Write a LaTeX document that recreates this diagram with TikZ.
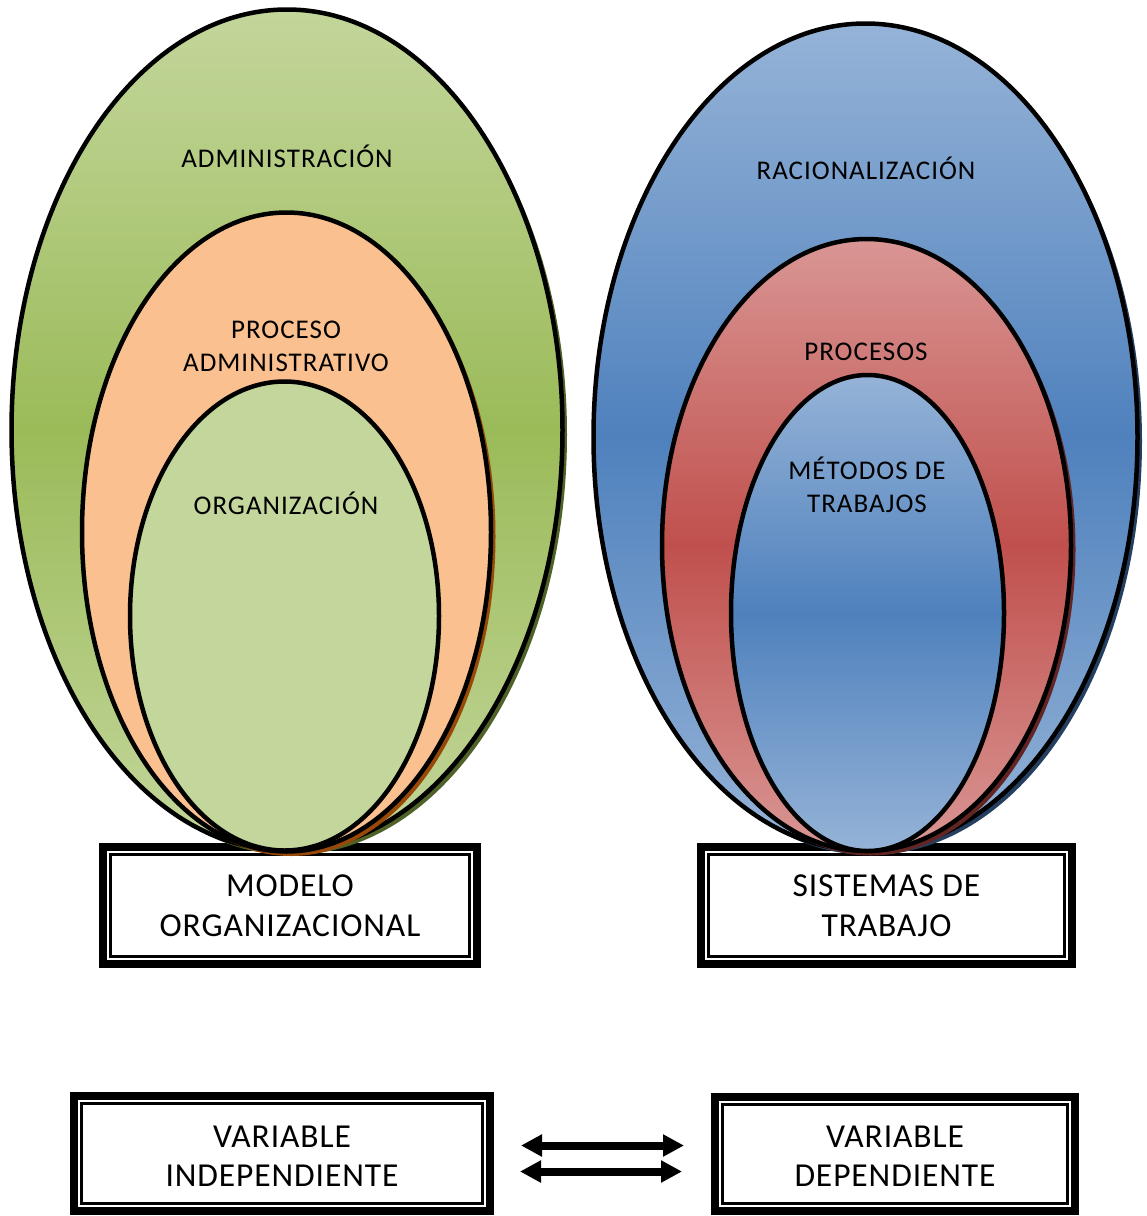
\documentclass[tikz,border=0pt]{standalone}
\usepackage{fontspec}
\setmainfont{Carlito}
\newfontfamily\lblfont[LetterSpace=3.7]{Carlito}
\newfontfamily\boxfont[LetterSpace=2.7]{Carlito}
\usetikzlibrary{shapes.geometric,shadows,arrows.meta}
\definecolor{gLight}{HTML}{C3D69B}
\definecolor{gMid}{HTML}{9BBB59}
\definecolor{gShadow}{HTML}{4F6228}
\definecolor{orangeF}{HTML}{FAC08F}
\definecolor{oShadow}{HTML}{984807}
\definecolor{bLight}{HTML}{95B3D7}
\definecolor{bMid}{HTML}{4F81BD}
\definecolor{bShadow}{HTML}{243F60}
\definecolor{rLight}{HTML}{D99694}
\definecolor{rMid}{HTML}{C0504D}
\definecolor{rShadow}{HTML}{632523}
\tikzset{
  ell/.style={ellipse, draw=black, line width=4.5pt, inner sep=0pt, outer sep=0pt},
  shad/.style={drop shadow={shadow xshift=4.5pt, shadow yshift=-4.5pt, fill=#1, opacity=1}},
  grad/.style 2 args={top color=#1, bottom color=#1, middle color=#2},
  lbl/.style={font=\lblfont\fontsize{27}{33}\selectfont, align=center, inner sep=0pt},
  boxlbl/.style={font=\boxfont\fontsize{33.5}{39.5}\selectfont, align=center, inner sep=0pt},
  dbox/.style={draw=black, line width=8pt, fill=white, inner sep=0pt, outer sep=0pt},
  innerline/.style={draw=black, line width=2.5pt},
  dblarrow/.style={line width=8pt, {Triangle[length=21pt,width=21pt]}-{Triangle[length=21pt,width=21pt]}}
}
\begin{document}
\begin{tikzpicture}[x=1pt,y=-1pt]
\useasboundingbox (0,0) rectangle (1147,1216);

% boxes
\node[dbox, minimum width=374pt, minimum height=117pt] (mo) at (290,905.5) {};
\draw[innerline] ([xshift=7.5pt,yshift=-7.5pt]mo.north west) rectangle ([xshift=-7.5pt,yshift=7.5pt]mo.south east);
\node[dbox, minimum width=371pt, minimum height=117pt] (st) at (886.5,905.5) {};
\draw[innerline] ([xshift=7.5pt,yshift=-7.5pt]st.north west) rectangle ([xshift=-7.5pt,yshift=7.5pt]st.south east);
\node[dbox, minimum width=416pt, minimum height=115pt] (vi) at (282,1153.5) {};
\draw[innerline] ([xshift=7.5pt,yshift=-7.5pt]vi.north west) rectangle ([xshift=-7.5pt,yshift=7.5pt]vi.south east);
\node[dbox, minimum width=360pt, minimum height=114pt] (vd) at (895,1154) {};
\draw[innerline] ([xshift=7.5pt,yshift=-7.5pt]vd.north west) rectangle ([xshift=-7.5pt,yshift=7.5pt]vd.south east);

\node[boxlbl] (moT) at (290,905.5) {MODELO\\ORGANIZACIONAL};
\node[boxlbl] (stT) at (886.5,905.5) {SISTEMAS DE\\TRABAJO};
\node[boxlbl] (viT) at (282,1156) {VARIABLE\\INDEPENDIENTE};
\node[boxlbl] (vdT) at (895,1156) {VARIABLE\\DEPENDIENTE};

% left ellipses
\node[ell, shad=gShadow, minimum width=551pt, minimum height=841pt,
      grad={gLight}{gMid}] (adm) at (287,430) {};
\node[ell, shad=oShadow, minimum width=409pt, minimum height=639pt, fill=orangeF] (pro) at (286.5,532) {};
\node[ell, minimum width=309pt, minimum height=469pt, fill=gLight] (org) at (284.5,616) {};

% right ellipses
\node[ell, shad=bShadow, minimum width=544pt, minimum height=827pt,
      grad={bLight}{bMid}] (rac) at (865.5,437) {};
\node[ell, shad=rShadow, minimum width=409pt, minimum height=612pt,
      grad={rLight}{rMid}] (prs) at (866.5,545) {};
\node[ell, minimum width=273pt, minimum height=476pt,
      grad={bLight}{bMid}] (met) at (867.5,613) {};

% ellipse labels
\node[lbl, anchor=base] (admT) at (287,167) {ADMINISTRACIÓN};
\node[lbl] (proT) at (286,346.5) {PROCESO\\ADMINISTRATIVO};
\node[lbl, anchor=base] (orgT) at (286,514.5) {ORGANIZACIÓN};
\node[lbl, anchor=base] (racT) at (866,179) {RACIONALIZACIÓN};
\node[lbl, anchor=base] (prsT) at (866,360) {PROCESOS};
\node[lbl] (metT) at (867,484.5) {MÉTODOS DE\\TRABAJOS};

% arrows
\coordinate (a1) at (521,1145.5);
\coordinate (a2) at (684,1145.5);
\coordinate (b1) at (520,1171.5);
\coordinate (b2) at (682,1171.5);
\draw[dblarrow] (a1) -- (a2);
\draw[dblarrow] (b1) -- (b2);
\end{tikzpicture}
\end{document}
